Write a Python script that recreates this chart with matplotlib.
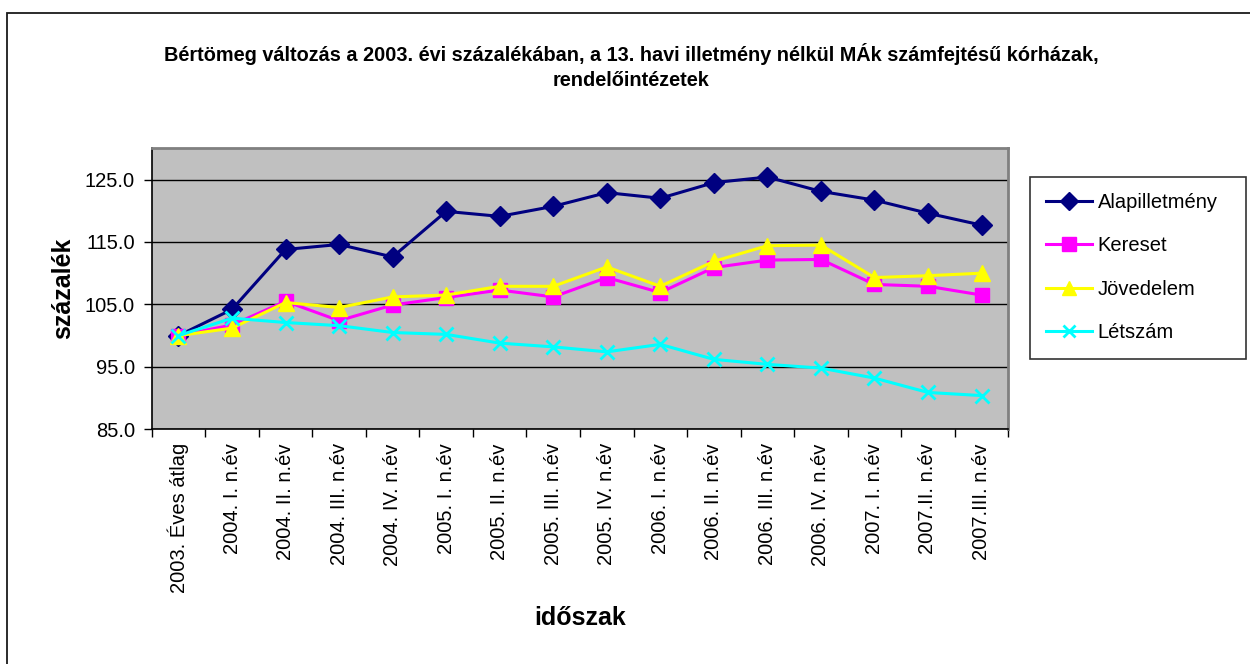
import matplotlib
matplotlib.use("Agg")
import matplotlib.pyplot as plt
from matplotlib.patches import Rectangle
import numpy as np

plt.rcParams['font.family'] = ['Liberation Sans', 'DejaVu Sans']

categories = ["2003. Éves átlag", "2004. I. n.év", "2004. II. n.év", "2004. III. n.év",
              "2004. IV. n.év", "2005. I. n.év", "2005. II. n.év", "2005. III. n.év",
              "2005. IV. n.év", "2006. I. n.év", "2006. II. n.év", "2006. III. n.év",
              "2006. IV. n.év", "2007. I. n.év", "2007.II. n.év", "2007.III. n.év"]

alapilletmeny = [100.0, 104.2, 113.8, 114.6, 112.6, 119.9, 119.1, 120.7,
                 122.9, 122.0, 124.5, 125.4, 123.1, 121.7, 119.6, 117.7]
kereset = [100.0, 101.7, 105.5, 102.4, 104.9, 106.1, 107.3, 106.2,
           109.3, 106.9, 110.9, 112.1, 112.2, 108.2, 107.9, 106.5]
jovedelem = [100.0, 101.2, 105.3, 104.5, 106.2, 106.5, 107.9, 107.9,
             111.0, 107.9, 111.9, 114.4, 114.5, 109.3, 109.6, 110.0]
letszam = [100.0, 102.8, 102.1, 101.6, 100.5, 100.2, 98.8, 98.2,
           97.4, 98.6, 96.2, 95.4, 94.8, 93.2, 90.9, 90.4]

series_names = ["Alapilletmény", "Kereset", "Jövedelem", "Létszám"]
y_ticks = [85.0, 95.0, 105.0, 115.0, 125.0]

title1 = "Bértömeg változás a 2003. évi százalékában, a 13. havi illetmény nélkül MÁk számfejtésű kórházak,"
title2 = "rendelőintézetek"

W, H = 1250, 664
fig = plt.figure(figsize=(W / 100, H / 100), dpi=100)
fig.patch.set_facecolor('white')

# outer chart border
fig.patches.append(Rectangle((7 / W, -0.2), 1.5, 1 - 13 / H + 0.2, transform=fig.transFigure,
                             fill=False, edgecolor='#1a1a1a', linewidth=1.3))

ax_l, ax_r, ax_t, ax_b = 151.7, 1008.3, 148.3, 429.3
ax = fig.add_axes([ax_l / W, 1 - ax_b / H, (ax_r - ax_l) / W, (ax_b - ax_t) / H])
ax.set_facecolor('#C0C0C0')

x = np.arange(len(categories))
styles = [
    (alapilletmeny, '#000080', 'D', 10),
    (kereset, '#FF00FF', 's', 10.5),
    (jovedelem, '#FFFF00', '^', 11.5),
    (letszam, '#00FFFF', 'x', 10),
]
handles = []
for (vals, col, mk, ms), name in zip(styles, series_names):
    if mk == 'x':
        ln, = ax.plot(x, vals, color=col, marker=mk, markersize=ms, markeredgewidth=2.0,
                      linewidth=2.2, label=name, zorder=3)
    else:
        ln, = ax.plot(x, vals, color=col, marker=mk, markersize=ms, markeredgecolor=col,
                      markerfacecolor=col, linewidth=2.2, label=name, zorder=3)
    handles.append(ln)

ax.set_xlim(-0.5, len(categories) - 0.5)
ax.set_ylim(85, 130)
ax.set_yticks(y_ticks)
ax.set_yticklabels([f"{v:.1f}" for v in y_ticks], fontsize=14.5)
ax.grid(axis='y', color='black', linewidth=1.0, zorder=1)
ax.set_axisbelow(True)

ax.set_xticks(np.arange(-0.5, len(categories), 1.0))
ax.set_xticklabels([])
ax.set_xticks(x, minor=True)
ax.set_xticklabels(categories, minor=True, rotation=90, fontsize=14.5, va='top', ha='center')
ax.tick_params(axis='x', which='major', length=6, width=1, direction='out', color='black')
ax.tick_params(axis='x', which='minor', length=0, pad=10)
ax.tick_params(axis='y', which='major', length=6, width=1, direction='out', pad=6, color='black')

for s in ['top', 'right']:
    ax.spines[s].set_color('#808080')
    ax.spines[s].set_linewidth(2.0)
for s in ['left', 'bottom']:
    ax.spines[s].set_color('black')
    ax.spines[s].set_linewidth(1.2)

fig.text(63 / W, 1 - 288 / H, "százalék", rotation=90, ha='center', va='center',
         fontsize=18, fontweight='bold')
fig.text(580 / W, 1 - 618 / H, "időszak", ha='center', va='center',
         fontsize=18, fontweight='bold')

fig.text(631 / W, 1 - 54 / H, title1, ha='center', va='center', fontsize=14.3, fontweight='bold')
fig.text(631 / W, 1 - 81 / H, title2, ha='center', va='center', fontsize=14.3, fontweight='bold')

lx0, lx1, ly0, ly1 = 1030, 1245.7, 176.7, 353.3
leg = fig.legend(handles=handles, labels=series_names, loc='upper left',
                 bbox_to_anchor=(lx0 / W, 1 - ly0 / H, (lx1 - lx0) / W, 0.0001), mode='expand',
                 fontsize=14.5, frameon=True, fancybox=False, shadow=False,
                 handlelength=2.3, handletextpad=0.25, labelspacing=1.22, borderpad=0.8,
                 borderaxespad=0.0, markerscale=0.9)
leg.get_frame().set_edgecolor('black')
leg.get_frame().set_linewidth(1.2)

fig.savefig("out.png", dpi=100)
